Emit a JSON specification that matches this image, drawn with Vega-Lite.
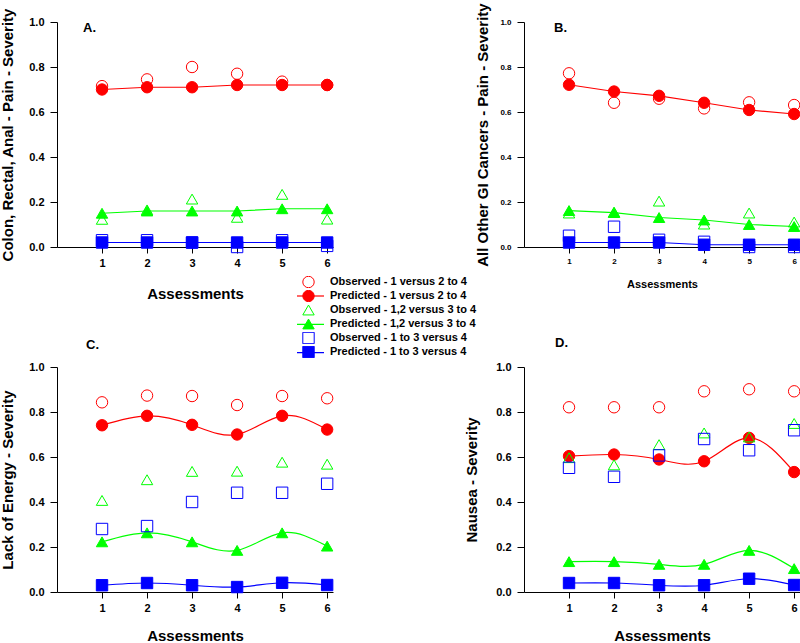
{
"$schema":"https://vega.github.io/schema/vega-lite/v6.json",
"background":"white",
"autosize":{"type":"pad"},
"padding":{"left":0,"top":2,"right":0,"bottom":0},
"datasets":{"d":[
{"p":"A","s":"Predicted - 1 versus 2 to 4","x":1,"y":0.70},{"p":"A","s":"Predicted - 1 versus 2 to 4","x":2,"y":0.71},{"p":"A","s":"Predicted - 1 versus 2 to 4","x":3,"y":0.71},{"p":"A","s":"Predicted - 1 versus 2 to 4","x":4,"y":0.72},{"p":"A","s":"Predicted - 1 versus 2 to 4","x":5,"y":0.72},{"p":"A","s":"Predicted - 1 versus 2 to 4","x":6,"y":0.72},
{"p":"A","s":"Predicted - 1,2 versus 3 to 4","x":1,"y":0.15},{"p":"A","s":"Predicted - 1,2 versus 3 to 4","x":2,"y":0.16},{"p":"A","s":"Predicted - 1,2 versus 3 to 4","x":3,"y":0.16},{"p":"A","s":"Predicted - 1,2 versus 3 to 4","x":4,"y":0.16},{"p":"A","s":"Predicted - 1,2 versus 3 to 4","x":5,"y":0.17},{"p":"A","s":"Predicted - 1,2 versus 3 to 4","x":6,"y":0.17},
{"p":"A","s":"Predicted - 1 to 3 versus 4","x":1,"y":0.02},{"p":"A","s":"Predicted - 1 to 3 versus 4","x":2,"y":0.02},{"p":"A","s":"Predicted - 1 to 3 versus 4","x":3,"y":0.02},{"p":"A","s":"Predicted - 1 to 3 versus 4","x":4,"y":0.02},{"p":"A","s":"Predicted - 1 to 3 versus 4","x":5,"y":0.02},{"p":"A","s":"Predicted - 1 to 3 versus 4","x":6,"y":0.02},
{"p":"A","s":"Observed - 1 versus 2 to 4","x":1,"y":0.715},{"p":"A","s":"Observed - 1 versus 2 to 4","x":2,"y":0.745},{"p":"A","s":"Observed - 1 versus 2 to 4","x":3,"y":0.80},{"p":"A","s":"Observed - 1 versus 2 to 4","x":4,"y":0.77},{"p":"A","s":"Observed - 1 versus 2 to 4","x":5,"y":0.735},{"p":"A","s":"Observed - 1 versus 2 to 4","x":6,"y":0.72},
{"p":"A","s":"Observed - 1,2 versus 3 to 4","x":1,"y":0.123},{"p":"A","s":"Observed - 1,2 versus 3 to 4","x":2,"y":0.165},{"p":"A","s":"Observed - 1,2 versus 3 to 4","x":3,"y":0.213},{"p":"A","s":"Observed - 1,2 versus 3 to 4","x":4,"y":0.132},{"p":"A","s":"Observed - 1,2 versus 3 to 4","x":5,"y":0.234},{"p":"A","s":"Observed - 1,2 versus 3 to 4","x":6,"y":0.124},
{"p":"A","s":"Observed - 1 to 3 versus 4","x":1,"y":0.03},{"p":"A","s":"Observed - 1 to 3 versus 4","x":2,"y":0.03},{"p":"A","s":"Observed - 1 to 3 versus 4","x":3,"y":0.02},{"p":"A","s":"Observed - 1 to 3 versus 4","x":4,"y":0.0},{"p":"A","s":"Observed - 1 to 3 versus 4","x":5,"y":0.03},{"p":"A","s":"Observed - 1 to 3 versus 4","x":6,"y":0.005},

{"p":"B","s":"Predicted - 1 versus 2 to 4","x":1,"y":0.721},{"p":"B","s":"Predicted - 1 versus 2 to 4","x":2,"y":0.691},{"p":"B","s":"Predicted - 1 versus 2 to 4","x":3,"y":0.672},{"p":"B","s":"Predicted - 1 versus 2 to 4","x":4,"y":0.641},{"p":"B","s":"Predicted - 1 versus 2 to 4","x":5,"y":0.609},{"p":"B","s":"Predicted - 1 versus 2 to 4","x":6,"y":0.591},
{"p":"B","s":"Predicted - 1,2 versus 3 to 4","x":1,"y":0.162},{"p":"B","s":"Predicted - 1,2 versus 3 to 4","x":2,"y":0.153},{"p":"B","s":"Predicted - 1,2 versus 3 to 4","x":3,"y":0.131},{"p":"B","s":"Predicted - 1,2 versus 3 to 4","x":4,"y":0.12},{"p":"B","s":"Predicted - 1,2 versus 3 to 4","x":5,"y":0.10},{"p":"B","s":"Predicted - 1,2 versus 3 to 4","x":6,"y":0.091},
{"p":"B","s":"Predicted - 1 to 3 versus 4","x":1,"y":0.02},{"p":"B","s":"Predicted - 1 to 3 versus 4","x":2,"y":0.02},{"p":"B","s":"Predicted - 1 to 3 versus 4","x":3,"y":0.02},{"p":"B","s":"Predicted - 1 to 3 versus 4","x":4,"y":0.01},{"p":"B","s":"Predicted - 1 to 3 versus 4","x":5,"y":0.01},{"p":"B","s":"Predicted - 1 to 3 versus 4","x":6,"y":0.01},
{"p":"B","s":"Observed - 1 versus 2 to 4","x":1,"y":0.772},{"p":"B","s":"Observed - 1 versus 2 to 4","x":2,"y":0.641},{"p":"B","s":"Observed - 1 versus 2 to 4","x":3,"y":0.659},{"p":"B","s":"Observed - 1 versus 2 to 4","x":4,"y":0.616},{"p":"B","s":"Observed - 1 versus 2 to 4","x":5,"y":0.643},{"p":"B","s":"Observed - 1 versus 2 to 4","x":6,"y":0.631},
{"p":"B","s":"Observed - 1,2 versus 3 to 4","x":1,"y":0.151},{"p":"B","s":"Observed - 1,2 versus 3 to 4","x":2,"y":0.155},{"p":"B","s":"Observed - 1,2 versus 3 to 4","x":3,"y":0.204},{"p":"B","s":"Observed - 1,2 versus 3 to 4","x":4,"y":0.102},{"p":"B","s":"Observed - 1,2 versus 3 to 4","x":5,"y":0.151},{"p":"B","s":"Observed - 1,2 versus 3 to 4","x":6,"y":0.111},
{"p":"B","s":"Observed - 1 to 3 versus 4","x":1,"y":0.05},{"p":"B","s":"Observed - 1 to 3 versus 4","x":2,"y":0.09},{"p":"B","s":"Observed - 1 to 3 versus 4","x":3,"y":0.032},{"p":"B","s":"Observed - 1 to 3 versus 4","x":4,"y":0.023},{"p":"B","s":"Observed - 1 to 3 versus 4","x":5,"y":0.0},{"p":"B","s":"Observed - 1 to 3 versus 4","x":6,"y":0.0},

{"p":"C","s":"Predicted - 1 versus 2 to 4","x":1,"y":0.741},{"p":"C","s":"Predicted - 1 versus 2 to 4","x":2,"y":0.783},{"p":"C","s":"Predicted - 1 versus 2 to 4","x":3,"y":0.743},{"p":"C","s":"Predicted - 1 versus 2 to 4","x":4,"y":0.70},{"p":"C","s":"Predicted - 1 versus 2 to 4","x":5,"y":0.783},{"p":"C","s":"Predicted - 1 versus 2 to 4","x":6,"y":0.722},
{"p":"C","s":"Predicted - 1,2 versus 3 to 4","x":1,"y":0.223},{"p":"C","s":"Predicted - 1,2 versus 3 to 4","x":2,"y":0.263},{"p":"C","s":"Predicted - 1,2 versus 3 to 4","x":3,"y":0.223},{"p":"C","s":"Predicted - 1,2 versus 3 to 4","x":4,"y":0.185},{"p":"C","s":"Predicted - 1,2 versus 3 to 4","x":5,"y":0.263},{"p":"C","s":"Predicted - 1,2 versus 3 to 4","x":6,"y":0.204},
{"p":"C","s":"Predicted - 1 to 3 versus 4","x":1,"y":0.03},{"p":"C","s":"Predicted - 1 to 3 versus 4","x":2,"y":0.04},{"p":"C","s":"Predicted - 1 to 3 versus 4","x":3,"y":0.03},{"p":"C","s":"Predicted - 1 to 3 versus 4","x":4,"y":0.022},{"p":"C","s":"Predicted - 1 to 3 versus 4","x":5,"y":0.041},{"p":"C","s":"Predicted - 1 to 3 versus 4","x":6,"y":0.031},
{"p":"C","s":"Observed - 1 versus 2 to 4","x":1,"y":0.843},{"p":"C","s":"Observed - 1 versus 2 to 4","x":2,"y":0.873},{"p":"C","s":"Observed - 1 versus 2 to 4","x":3,"y":0.871},{"p":"C","s":"Observed - 1 versus 2 to 4","x":4,"y":0.831},{"p":"C","s":"Observed - 1 versus 2 to 4","x":5,"y":0.871},{"p":"C","s":"Observed - 1 versus 2 to 4","x":6,"y":0.861},
{"p":"C","s":"Observed - 1,2 versus 3 to 4","x":1,"y":0.407},{"p":"C","s":"Observed - 1,2 versus 3 to 4","x":2,"y":0.499},{"p":"C","s":"Observed - 1,2 versus 3 to 4","x":3,"y":0.536},{"p":"C","s":"Observed - 1,2 versus 3 to 4","x":4,"y":0.537},{"p":"C","s":"Observed - 1,2 versus 3 to 4","x":5,"y":0.577},{"p":"C","s":"Observed - 1,2 versus 3 to 4","x":6,"y":0.568},
{"p":"C","s":"Observed - 1 to 3 versus 4","x":1,"y":0.28},{"p":"C","s":"Observed - 1 to 3 versus 4","x":2,"y":0.293},{"p":"C","s":"Observed - 1 to 3 versus 4","x":3,"y":0.40},{"p":"C","s":"Observed - 1 to 3 versus 4","x":4,"y":0.441},{"p":"C","s":"Observed - 1 to 3 versus 4","x":5,"y":0.441},{"p":"C","s":"Observed - 1 to 3 versus 4","x":6,"y":0.481},

{"p":"D","s":"Predicted - 1 versus 2 to 4","x":1,"y":0.604},{"p":"D","s":"Predicted - 1 versus 2 to 4","x":2,"y":0.611},{"p":"D","s":"Predicted - 1 versus 2 to 4","x":3,"y":0.589},{"p":"D","s":"Predicted - 1 versus 2 to 4","x":4,"y":0.581},{"p":"D","s":"Predicted - 1 versus 2 to 4","x":5,"y":0.685},{"p":"D","s":"Predicted - 1 versus 2 to 4","x":6,"y":0.533},
{"p":"D","s":"Predicted - 1,2 versus 3 to 4","x":1,"y":0.135},{"p":"D","s":"Predicted - 1,2 versus 3 to 4","x":2,"y":0.135},{"p":"D","s":"Predicted - 1,2 versus 3 to 4","x":3,"y":0.123},{"p":"D","s":"Predicted - 1,2 versus 3 to 4","x":4,"y":0.123},{"p":"D","s":"Predicted - 1,2 versus 3 to 4","x":5,"y":0.185},{"p":"D","s":"Predicted - 1,2 versus 3 to 4","x":6,"y":0.104},
{"p":"D","s":"Predicted - 1 to 3 versus 4","x":1,"y":0.04},{"p":"D","s":"Predicted - 1 to 3 versus 4","x":2,"y":0.04},{"p":"D","s":"Predicted - 1 to 3 versus 4","x":3,"y":0.03},{"p":"D","s":"Predicted - 1 to 3 versus 4","x":4,"y":0.03},{"p":"D","s":"Predicted - 1 to 3 versus 4","x":5,"y":0.059},{"p":"D","s":"Predicted - 1 to 3 versus 4","x":6,"y":0.031},
{"p":"D","s":"Observed - 1 versus 2 to 4","x":1,"y":0.821},{"p":"D","s":"Observed - 1 versus 2 to 4","x":2,"y":0.821},{"p":"D","s":"Observed - 1 versus 2 to 4","x":3,"y":0.821},{"p":"D","s":"Observed - 1 versus 2 to 4","x":4,"y":0.892},{"p":"D","s":"Observed - 1 versus 2 to 4","x":5,"y":0.901},{"p":"D","s":"Observed - 1 versus 2 to 4","x":6,"y":0.892},
{"p":"D","s":"Observed - 1,2 versus 3 to 4","x":1,"y":0.597},{"p":"D","s":"Observed - 1,2 versus 3 to 4","x":2,"y":0.565},{"p":"D","s":"Observed - 1,2 versus 3 to 4","x":3,"y":0.655},{"p":"D","s":"Observed - 1,2 versus 3 to 4","x":4,"y":0.707},{"p":"D","s":"Observed - 1,2 versus 3 to 4","x":5,"y":0.689},{"p":"D","s":"Observed - 1,2 versus 3 to 4","x":6,"y":0.749},
{"p":"D","s":"Observed - 1 to 3 versus 4","x":1,"y":0.552},{"p":"D","s":"Observed - 1 to 3 versus 4","x":2,"y":0.512},{"p":"D","s":"Observed - 1 to 3 versus 4","x":3,"y":0.607},{"p":"D","s":"Observed - 1 to 3 versus 4","x":4,"y":0.68},{"p":"D","s":"Observed - 1 to 3 versus 4","x":5,"y":0.63},{"p":"D","s":"Observed - 1 to 3 versus 4","x":6,"y":0.719}
]},
"data":{"name":"d"},
"columns":2,
"spacing":{"row":120,"column":191},
"bounds":"flush",
"resolve":{"scale":{"color":"independent","shape":"independent","fill":"independent","stroke":"independent"},"legend":{"color":"independent","shape":"independent","fill":"independent","stroke":"independent"}},
"concat":[
{
 "width":276,"height":225,
 "title":{"text":"A.","anchor":"start","frame":"group","dx":26,"dy":21,"offset":-16,"baseline":"alphabetic","fontSize":13},
 "transform":[{"filter":"datum.p==='A'"}],
 "encoding":{
  "x":{"field":"x","type":"quantitative","scale":{"domain":[0,6.13],"nice":false,"zero":false},"axis":{"values":[1,2,3,4,5,6],"title":"Assessments","labelFontSize":11,"titleFontSize":15,"tickSize":6,"labelPadding":4,"titlePadding":18,"labelFlush":false,"labelOverlap":false}},
  "y":{"field":"y","type":"quantitative","scale":{"domain":[0,1],"nice":false},"axis":{"values":[0,0.2,0.4,0.6,0.8,1],"format":".1f","title":"Colon, Rectal, Anal - Pain - Severity","labelFontSize":11,"titleFontSize":15,"tickSize":7,"labelPadding":6,"titlePadding":13,"labelFlush":false,"labelOverlap":false}}
 },
 "layer":[
  {"transform":[{"filter":{"field":"s","oneOf":["Predicted - 1 versus 2 to 4","Predicted - 1,2 versus 3 to 4","Predicted - 1 to 3 versus 4"]}}],
   "mark":{"type":"line","strokeWidth":1.2,"interpolate":"linear"},
   "encoding":{"color":{"field":"s","type":"nominal","scale":{"domain":["Predicted - 1 versus 2 to 4","Predicted - 1,2 versus 3 to 4","Predicted - 1 to 3 versus 4"],"range":["#ff0000","#00ff00","#0000ff"]},
     "legend":{"orient":"none","legendX":239,"legendY":268,"title":null,"padding":0,"symbolType":"stroke","symbolSize":729,"symbolStrokeWidth":1.2,"clipHeight":12,"rowPadding":16.3,"labelExpr":"''"}}}},
  {"mark":{"type":"point","filled":true,"size":130,"strokeWidth":1,"opacity":1},
   "encoding":{
    "shape":{"field":"s","type":"nominal","scale":{"domain":["Observed - 1 versus 2 to 4","Predicted - 1 versus 2 to 4","Observed - 1,2 versus 3 to 4","Predicted - 1,2 versus 3 to 4","Observed - 1 to 3 versus 4","Predicted - 1 to 3 versus 4"],"range":["circle","circle","triangle-up","triangle-up","square","square"]},
      "legend":{"orient":"none","legendX":245,"legendY":254,"title":null,"padding":0,"symbolSize":130,"symbolStrokeWidth":1,"clipHeight":12,"rowPadding":2.0,"labelFontSize":11,"labelFontWeight":"bold","labelOffset":15,"labelColor":"#000","labelLimit":300}},
    "fill":{"field":"s","type":"nominal","scale":{"domain":["Observed - 1 versus 2 to 4","Predicted - 1 versus 2 to 4","Observed - 1,2 versus 3 to 4","Predicted - 1,2 versus 3 to 4","Observed - 1 to 3 versus 4","Predicted - 1 to 3 versus 4"],"range":["transparent","#ff0000","transparent","#00ff00","transparent","#0000ff"]},
      "legend":{"orient":"none","legendX":245,"legendY":254,"title":null,"padding":0,"symbolSize":130,"symbolStrokeWidth":1,"clipHeight":12,"rowPadding":2.0,"labelFontSize":11,"labelFontWeight":"bold","labelOffset":15,"labelColor":"#000","labelLimit":300}},
    "stroke":{"field":"s","type":"nominal","scale":{"domain":["Observed - 1 versus 2 to 4","Predicted - 1 versus 2 to 4","Observed - 1,2 versus 3 to 4","Predicted - 1,2 versus 3 to 4","Observed - 1 to 3 versus 4","Predicted - 1 to 3 versus 4"],"range":["#ff0000","#ff0000","#00ff00","#00ff00","#0000ff","#0000ff"]},
      "legend":{"orient":"none","legendX":245,"legendY":254,"title":null,"padding":0,"symbolSize":130,"symbolStrokeWidth":1,"clipHeight":12,"rowPadding":2.0,"labelFontSize":11,"labelFontWeight":"bold","labelOffset":15,"labelColor":"#000","labelLimit":300}}
   }}
 ]
},
{
 "width":276,"height":225,
 "title":{"text":"B.","anchor":"start","frame":"group","dx":30,"dy":28,"offset":-14,"baseline":"alphabetic","fontSize":13},
 "transform":[{"filter":"datum.p==='B'"}],
 "encoding":{
  "x":{"field":"x","type":"quantitative","scale":{"domain":[0,6.13],"nice":false,"zero":false},"axis":{"values":[1,2,3,4,5,6],"title":"Assessments","labelFontSize":8,"titleFontSize":11,"tickSize":6,"labelPadding":4,"titlePadding":13,"labelFlush":false,"labelOverlap":false}},
  "y":{"field":"y","type":"quantitative","scale":{"domain":[0,1],"nice":false},"axis":{"values":[0,0.2,0.4,0.6,0.8,1],"format":".1f","title":"All Other GI Cancers - Pain - Severity","labelFontSize":8,"titleFontSize":15,"tickSize":7,"labelPadding":6,"titlePadding":9,"labelFlush":false,"labelOverlap":false}}
 },
 "layer":[
  {"transform":[{"filter":{"field":"s","oneOf":["Predicted - 1 versus 2 to 4","Predicted - 1,2 versus 3 to 4","Predicted - 1 to 3 versus 4"]}}],
   "mark":{"type":"line","strokeWidth":1.2,"interpolate":"linear"},
   "encoding":{"color":{"field":"s","type":"nominal","scale":{"domain":["Predicted - 1 versus 2 to 4","Predicted - 1,2 versus 3 to 4","Predicted - 1 to 3 versus 4"],"range":["#ff0000","#00ff00","#0000ff"]},"legend":null}}},
  {"mark":{"type":"point","filled":true,"size":130,"strokeWidth":1,"opacity":1},
   "encoding":{
    "shape":{"field":"s","type":"nominal","scale":{"domain":["Observed - 1 versus 2 to 4","Predicted - 1 versus 2 to 4","Observed - 1,2 versus 3 to 4","Predicted - 1,2 versus 3 to 4","Observed - 1 to 3 versus 4","Predicted - 1 to 3 versus 4"],"range":["circle","circle","triangle-up","triangle-up","square","square"]},"legend":null},
    "fill":{"field":"s","type":"nominal","scale":{"domain":["Observed - 1 versus 2 to 4","Predicted - 1 versus 2 to 4","Observed - 1,2 versus 3 to 4","Predicted - 1,2 versus 3 to 4","Observed - 1 to 3 versus 4","Predicted - 1 to 3 versus 4"],"range":["transparent","#ff0000","transparent","#00ff00","transparent","#0000ff"]},"legend":null},
    "stroke":{"field":"s","type":"nominal","scale":{"domain":["Observed - 1 versus 2 to 4","Predicted - 1 versus 2 to 4","Observed - 1,2 versus 3 to 4","Predicted - 1,2 versus 3 to 4","Observed - 1 to 3 versus 4","Predicted - 1 to 3 versus 4"],"range":["#ff0000","#ff0000","#00ff00","#00ff00","#0000ff","#0000ff"]},"legend":null}
   }}
 ]
},
{
 "width":276,"height":225,
 "title":{"text":"C.","anchor":"start","frame":"group","dx":29,"dy":12,"offset":11,"baseline":"alphabetic","fontSize":13},
 "transform":[{"filter":"datum.p==='C'"}],
 "encoding":{
  "x":{"field":"x","type":"quantitative","scale":{"domain":[0,6.13],"nice":false,"zero":false},"axis":{"values":[1,2,3,4,5,6],"title":"Assessments","labelFontSize":11,"titleFontSize":15,"tickSize":6,"labelPadding":4,"titlePadding":15,"labelFlush":false,"labelOverlap":false}},
  "y":{"field":"y","type":"quantitative","scale":{"domain":[0,1],"nice":false},"axis":{"values":[0,0.2,0.4,0.6,0.8,1],"format":".1f","title":"Lack of Energy - Severity","labelFontSize":11,"titleFontSize":15,"tickSize":7,"labelPadding":6,"titlePadding":13,"labelFlush":false,"labelOverlap":false}}
 },
 "layer":[
  {"transform":[{"filter":{"field":"s","oneOf":["Predicted - 1 versus 2 to 4","Predicted - 1,2 versus 3 to 4","Predicted - 1 to 3 versus 4"]}}],
   "mark":{"type":"line","strokeWidth":1.2,"interpolate":"natural"},
   "encoding":{"color":{"field":"s","type":"nominal","scale":{"domain":["Predicted - 1 versus 2 to 4","Predicted - 1,2 versus 3 to 4","Predicted - 1 to 3 versus 4"],"range":["#ff0000","#00ff00","#0000ff"]},"legend":null}}},
  {"mark":{"type":"point","filled":true,"size":130,"strokeWidth":1,"opacity":1},
   "encoding":{
    "shape":{"field":"s","type":"nominal","scale":{"domain":["Observed - 1 versus 2 to 4","Predicted - 1 versus 2 to 4","Observed - 1,2 versus 3 to 4","Predicted - 1,2 versus 3 to 4","Observed - 1 to 3 versus 4","Predicted - 1 to 3 versus 4"],"range":["circle","circle","triangle-up","triangle-up","square","square"]},"legend":null},
    "fill":{"field":"s","type":"nominal","scale":{"domain":["Observed - 1 versus 2 to 4","Predicted - 1 versus 2 to 4","Observed - 1,2 versus 3 to 4","Predicted - 1,2 versus 3 to 4","Observed - 1 to 3 versus 4","Predicted - 1 to 3 versus 4"],"range":["transparent","#ff0000","transparent","#00ff00","transparent","#0000ff"]},"legend":null},
    "stroke":{"field":"s","type":"nominal","scale":{"domain":["Observed - 1 versus 2 to 4","Predicted - 1 versus 2 to 4","Observed - 1,2 versus 3 to 4","Predicted - 1,2 versus 3 to 4","Observed - 1 to 3 versus 4","Predicted - 1 to 3 versus 4"],"range":["#ff0000","#ff0000","#00ff00","#00ff00","#0000ff","#0000ff"]},"legend":null}
   }}
 ]
},
{
 "width":276,"height":225,
 "title":{"text":"D.","anchor":"start","frame":"group","dx":31,"dy":13,"offset":14,"baseline":"alphabetic","fontSize":13},
 "transform":[{"filter":"datum.p==='D'"}],
 "encoding":{
  "x":{"field":"x","type":"quantitative","scale":{"domain":[0,6.13],"nice":false,"zero":false},"axis":{"values":[1,2,3,4,5,6],"title":"Assessments","labelFontSize":11,"titleFontSize":15,"tickSize":6,"labelPadding":4,"titlePadding":15,"labelFlush":false,"labelOverlap":false}},
  "y":{"field":"y","type":"quantitative","scale":{"domain":[0,1],"nice":false},"axis":{"values":[0,0.2,0.4,0.6,0.8,1],"format":".1f","title":"Nausea - Severity","labelFontSize":11,"titleFontSize":15,"tickSize":7,"labelPadding":6,"titlePadding":16,"labelFlush":false,"labelOverlap":false}}
 },
 "layer":[
  {"transform":[{"filter":{"field":"s","oneOf":["Predicted - 1 versus 2 to 4","Predicted - 1,2 versus 3 to 4","Predicted - 1 to 3 versus 4"]}}],
   "mark":{"type":"line","strokeWidth":1.2,"interpolate":"natural"},
   "encoding":{"color":{"field":"s","type":"nominal","scale":{"domain":["Predicted - 1 versus 2 to 4","Predicted - 1,2 versus 3 to 4","Predicted - 1 to 3 versus 4"],"range":["#ff0000","#00ff00","#0000ff"]},"legend":null}}},
  {"mark":{"type":"point","filled":true,"size":130,"strokeWidth":1,"opacity":1},
   "encoding":{
    "shape":{"field":"s","type":"nominal","scale":{"domain":["Observed - 1 versus 2 to 4","Predicted - 1 versus 2 to 4","Observed - 1,2 versus 3 to 4","Predicted - 1,2 versus 3 to 4","Observed - 1 to 3 versus 4","Predicted - 1 to 3 versus 4"],"range":["circle","circle","triangle-up","triangle-up","square","square"]},"legend":null},
    "fill":{"field":"s","type":"nominal","scale":{"domain":["Observed - 1 versus 2 to 4","Predicted - 1 versus 2 to 4","Observed - 1,2 versus 3 to 4","Predicted - 1,2 versus 3 to 4","Observed - 1 to 3 versus 4","Predicted - 1 to 3 versus 4"],"range":["transparent","#ff0000","transparent","#00ff00","transparent","#0000ff"]},"legend":null},
    "stroke":{"field":"s","type":"nominal","scale":{"domain":["Observed - 1 versus 2 to 4","Predicted - 1 versus 2 to 4","Observed - 1,2 versus 3 to 4","Predicted - 1,2 versus 3 to 4","Observed - 1 to 3 versus 4","Predicted - 1 to 3 versus 4"],"range":["#ff0000","#ff0000","#00ff00","#00ff00","#0000ff","#0000ff"]},"legend":null}
   }}
 ]
}
],
"config":{
 "font":"Liberation Sans",
 "view":{"stroke":null},
 "axis":{"grid":false,"domainColor":"#000","tickColor":"#000","labelColor":"#000","titleColor":"#000","labelFontWeight":"bold","titleFontWeight":"bold","labelFont":"Liberation Sans","titleFont":"Liberation Sans","domainWidth":1,"tickWidth":1},
 "legend":{"labelFont":"Liberation Sans"},
 "title":{"font":"Liberation Sans","fontWeight":"bold","color":"#000"}
}
}
